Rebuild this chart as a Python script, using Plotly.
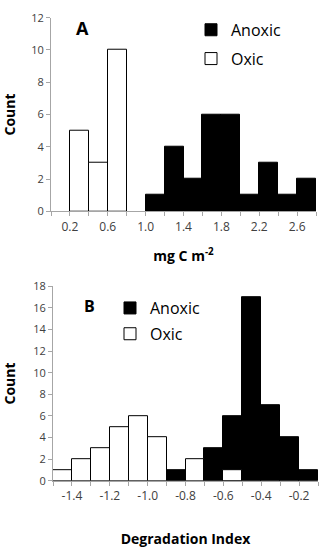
import plotly.graph_objects as go

# ---------------- data ----------------
# Panel A: mg C m-2 histogram (bin left edges, bin width 0.2)
a_bin_width = 0.2
a_oxic_left = [0.2, 0.4, 0.6]
a_oxic_count = [5, 3, 10]
a_anoxic_left = [1.0, 1.2, 1.4, 1.6, 1.8, 2.0, 2.2, 2.4, 2.6]
a_anoxic_count = [1, 4, 2, 6, 6, 1, 3, 1, 2]
a_tick_vals = [0.2, 0.6, 1.0, 1.4, 1.8, 2.2, 2.6]
a_tick_text = ["0.2", "0.6", "1.0", "1.4", "1.8", "2.2", "2.6"]

# Panel B: Degradation Index histogram (bin left edges, bin width 0.1)
b_bin_width = 0.1
b_oxic_left = [-1.5, -1.4, -1.3, -1.2, -1.1, -1.0, -0.8, -0.6]
b_oxic_count = [1, 2, 3, 5, 6, 4, 2, 1]
b_anoxic_left = [-0.9, -0.7, -0.6, -0.5, -0.4, -0.3, -0.2]
b_anoxic_count = [1, 3, 6, 17, 7, 4, 1]
b_tick_vals = [-1.4, -1.2, -1.0, -0.8, -0.6, -0.4, -0.2]
b_tick_text = ["-1.4", "-1.2", "-1.0", "-0.8", "-0.6", "-0.4", "-0.2"]

W, H = 322, 549
FONT = "Open Sans"
AXIS_COLOR = "#a6a6a6"
TICK_COLOR = "#404040"

fig = go.Figure()

def bars(x, y, width, name, fill, xa, ya, legend, group):
    return go.Bar(
        x=x, y=y, width=width, offset=0, name=name,
        marker=dict(color=fill, line=dict(color="black", width=1)),
        xaxis=xa, yaxis=ya, legend=legend, legendgroup=group,
    )

fig.add_trace(bars(a_anoxic_left, a_anoxic_count, a_bin_width, "Anoxic", "black", "x", "y", "legend", "a1"))
fig.add_trace(bars(a_oxic_left, a_oxic_count, a_bin_width, "Oxic", "white", "x", "y", "legend", "a2"))
fig.add_trace(bars(b_anoxic_left, b_anoxic_count, b_bin_width, "Anoxic", "black", "x2", "y2", "legend2", "b1"))
fig.add_trace(bars(b_oxic_left, b_oxic_count, b_bin_width, "Oxic", "white", "x2", "y2", "legend2", "b2"))

def px_x(p):
    return p / W

def px_y(p):
    return 1 - p / H

common_x = dict(
    showline=True, linecolor=AXIS_COLOR, linewidth=1, showgrid=False, zeroline=False,
    ticks="outside", ticklen=4, tickcolor=AXIS_COLOR,
    tickfont=dict(family=FONT, size=12, color=TICK_COLOR),
    title_font=dict(family=FONT, size=14, color="black"),
    tickmode="array", fixedrange=True,
)
common_y = dict(
    showline=True, linecolor=AXIS_COLOR, linewidth=1, showgrid=False, zeroline=False,
    ticks="outside", ticklen=4, tickcolor=AXIS_COLOR, dtick=2, tick0=0,
    tickfont=dict(family=FONT, size=11, color=TICK_COLOR),
    title_font=dict(family=FONT, size=14, color="black"),
    fixedrange=True,
)

fig.update_layout(
    width=W, height=H,
    margin=dict(l=0, r=0, t=0, b=0),
    paper_bgcolor="white", plot_bgcolor="white",
    barmode="overlay", bargap=0,
    font=dict(family=FONT, color="black"),
    xaxis=dict(
        common_x, domain=[px_x(51), px_x(316)], anchor="y", range=[0, 2.8],
        tickvals=a_tick_vals, ticktext=a_tick_text,
        minor=dict(dtick=0.2, tick0=0, ticks="outside", ticklen=4, tickcolor=AXIS_COLOR),
        title=dict(text="<b>mg C m<sup>-2</sup></b>", standoff=17),
    ),
    yaxis=dict(
        common_y, domain=[px_y(209), px_y(10)], anchor="x", range=[0, 12],
        title=dict(text="<b>Count</b>", standoff=14),
    ),
    xaxis2=dict(
        common_x, domain=[px_x(53), px_x(318)], anchor="y2", range=[-1.5, -0.1],
        tickvals=b_tick_vals, ticktext=b_tick_text,
        minor=dict(dtick=0.1, tick0=-1.5, ticks="outside", ticklen=4, tickcolor=AXIS_COLOR),
        title=dict(text="<b>Degradation Index</b>", standoff=31),
    ),
    yaxis2=dict(
        common_y, domain=[px_y(486), px_y(286)], anchor="x2", range=[0, 18],
        title=dict(text="<b>Count</b>", standoff=14),
    ),
    legend=dict(
        x=px_x(191), y=px_y(5), xanchor="left", yanchor="top",
        font=dict(family=FONT, size=16, color="black"),
        bgcolor="rgba(0,0,0,0)", itemwidth=30, traceorder="grouped", tracegroupgap=5,
    ),
    legend2=dict(
        x=px_x(110), y=px_y(291), xanchor="left", yanchor="top",
        font=dict(family=FONT, size=16, color="black"),
        bgcolor="rgba(0,0,0,0)", itemwidth=30, traceorder="grouped", tracegroupgap=2,
    ),
    annotations=[
        dict(text="<b>A</b>", x=px_x(82), y=px_y(21), xref="paper", yref="paper",
             xanchor="center", yanchor="middle",
             showarrow=False, font=dict(family=FONT, size=18, color="black")),
        dict(text="<b>B</b>", x=px_x(89), y=px_y(306), xref="paper", yref="paper",
             xanchor="center", yanchor="middle",
             showarrow=False, font=dict(family=FONT, size=16, color="black")),
    ],
)

fig.write_html("out.html")
